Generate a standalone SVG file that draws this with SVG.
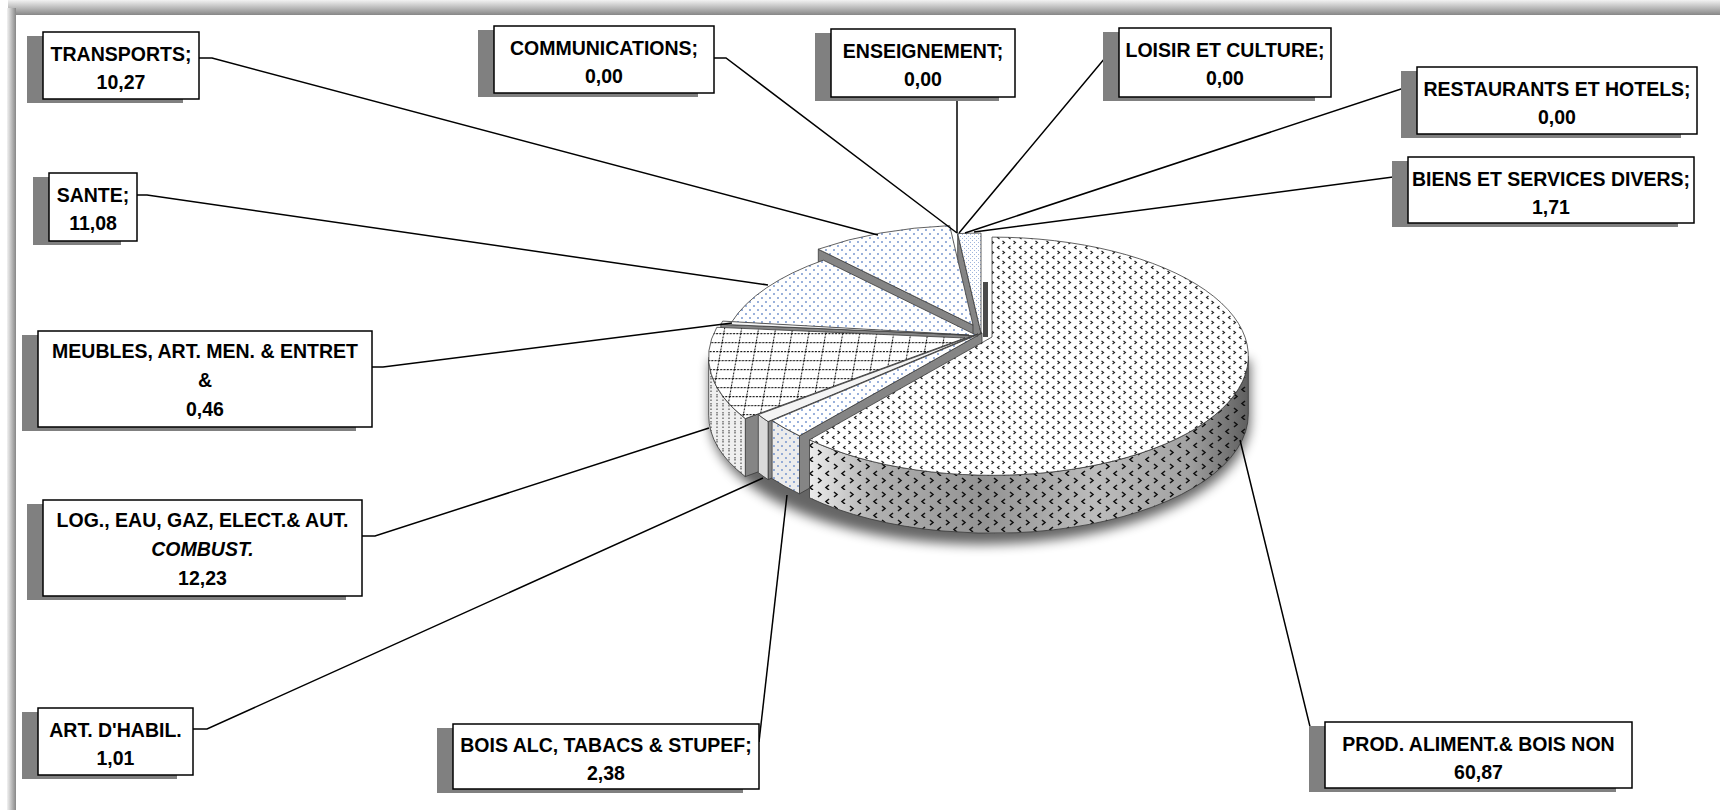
<svg xmlns="http://www.w3.org/2000/svg" width="1720" height="810" viewBox="0 0 1720 810">
<style>
.lbl{font-family:"Liberation Sans",Arial,sans-serif;font-weight:bold;font-size:19.5px;fill:#000;text-anchor:middle}
.it{font-style:italic}
.box{fill:#fff;stroke:#000;stroke-width:1.5}
.shd{fill:#808080}
.con{fill:none;stroke:#000;stroke-width:1.5}
.edge{stroke:#3a3a3a;stroke-width:0.8;stroke-linejoin:round}
.face{fill:#858585}
</style>
<defs>
<linearGradient id="gTop" x1="0" y1="0" x2="0" y2="1"><stop offset="0" stop-color="#f2f2f2"/><stop offset="1" stop-color="#878787"/></linearGradient>
<linearGradient id="gLeft" x1="0" y1="0" x2="1" y2="0"><stop offset="0" stop-color="#f2f2f2"/><stop offset="1" stop-color="#878787"/></linearGradient>
<linearGradient id="gSide" gradientUnits="userSpaceOnUse" x1="809" y1="0" x2="1249" y2="0">
<stop offset="0" stop-color="#ececec"/><stop offset="0.15" stop-color="#b0b0b0"/><stop offset="0.4" stop-color="#939393"/><stop offset="0.65" stop-color="#bcbcbc"/><stop offset="0.86" stop-color="#a2a2a2"/><stop offset="1" stop-color="#5e5e5e"/>
</linearGradient>
<pattern id="pProd" width="11" height="10" patternUnits="userSpaceOnUse">
<rect width="11" height="10" fill="#fff"/>
<path d="M1.5 1 l2 1.5 l-2 1.5 M9.5 6 l-2 1.5 l2 1.5" stroke="#222" stroke-width="1.1" fill="none"/>
</pattern>
<pattern id="pProdSide" width="16" height="14" patternUnits="userSpaceOnUse">
<path d="M2 2 l3 2.5 l-3 2.5 M13 9 l-3 2.5 l3 2.5" stroke="#111" stroke-width="1.6" fill="none"/>
</pattern>
<pattern id="pDots" width="8" height="8" patternUnits="userSpaceOnUse">
<rect width="8" height="8" fill="#fff"/>
<circle cx="2" cy="2" r="0.95" fill="#6f90cc"/><circle cx="6" cy="6" r="0.95" fill="#6f90cc"/>
</pattern>
<pattern id="pDotsSide" width="8" height="8" patternUnits="userSpaceOnUse">
<rect width="8" height="8" fill="#ececec"/>
<circle cx="2" cy="2" r="0.95" fill="#6f90cc"/><circle cx="6" cy="6" r="0.95" fill="#6f90cc"/>
</pattern>
<pattern id="pFine" width="4" height="4" patternUnits="userSpaceOnUse">
<rect width="4" height="4" fill="#fff"/>
<rect width="1" height="1" fill="#9fb5dc"/><rect x="2" y="2" width="1" height="1" fill="#9fb5dc"/>
</pattern>
<pattern id="pCross" width="17" height="9" patternUnits="userSpaceOnUse" patternTransform="skewX(-10)">
<rect width="17" height="9" fill="#fff"/>
<path d="M0 0.5 H17 M0.5 0 V9" stroke="#111" stroke-width="1.1" stroke-dasharray="2 1.3" fill="none"/>
</pattern>
<pattern id="pCrossSide" width="12" height="9" patternUnits="userSpaceOnUse">
<rect width="12" height="9" fill="#efefef"/>
<path d="M3 0 V9 M9 0 V9" stroke="#333" stroke-width="1" stroke-dasharray="1.5 2" fill="none"/>
</pattern>
<filter id="blur" x="-10%" y="-30%" width="120%" height="160%"><feGaussianBlur stdDeviation="6"/></filter>
</defs>

<rect width="1720" height="810" fill="#fff"/>
<g id="frame">
<rect x="8" y="0" width="1712" height="15" fill="url(#gTop)"/>
<rect x="7" y="8" width="9" height="802" fill="url(#gLeft)"/>
</g>

<g id="pie">
<path d="M712 354 L1252 354 L1252 414 A258 119 0 0 1 712 414 Z" fill="#000" opacity="0.6" filter="url(#blur)" transform="translate(-2,6)"/>
<g id="faces">
<path id="f-biens" class="face edge" d="M981 333 L957.7 233.6 L957.7 291.6 L981 391 Z"/>
<path id="f-transports" class="face edge" d="M973 325 L818.3 249.2 L818.3 307.2 L973 383 Z"/>
<path id="f-sante" class="face edge" d="M978 336 L731.7 322.1 L731.7 380.1 L978 394 Z"/>
<path id="f-meubles" class="face edge" d="M969 335 L720.8 324.3 L720.8 382.3 L969 393 Z"/>
<path id="f-log" class="face edge" d="M965 338 L745.3 418.6 L745.3 476.6 L965 396 Z"/>
<path id="f-art" class="face edge" d="M978 334 L768.1 421.6 L768.1 479.6 L978 392 Z"/>
<path id="f-bois" class="face edge" d="M982 333 L799.5 435.8 L799.5 493.8 L982 391 Z"/>
<rect x="983" y="282" width="5" height="55" fill="#4a4a4a"/>
</g>
<g id="sides">
<path id="s-log" class="edge" fill="url(#pCrossSide)" d="M745.3 418.6 A256.3 119.1 0 0 1 708.7 357.2 L708.7 415.2 A256.3 119.1 0 0 0 745.3 476.6 Z"/>
<path id="s-art" class="edge" fill="#dadada" d="M768.1 421.6 A256.3 119.1 0 0 1 758.3 414.6 L758.3 472.6 A256.3 119.1 0 0 0 768.1 479.6 Z"/>
<path id="s-bois" class="edge" fill="url(#pDotsSide)" d="M799.5 435.8 A256.3 119.1 0 0 1 772.1 420.6 L772.1 478.6 A256.3 119.1 0 0 0 799.5 493.8 Z"/>
<path id="s-prod" fill="url(#gSide)" d="M1248.3 356.2 A256.3 119.1 0 0 1 809.5 439.8 L809.5 497.8 A256.3 119.1 0 0 0 1248.3 414.2 Z"/>
<path class="edge" fill="url(#pProdSide)" d="M1248.3 356.2 A256.3 119.1 0 0 1 809.5 439.8 L809.5 497.8 A256.3 119.1 0 0 0 1248.3 414.2 Z"/>
</g>
<g id="tops">
<path id="t-biens" class="edge" fill="url(#pFine)" d="M981 333 L957.7 233.6 A256.3 119.1 0 0 1 981 233.1 Z"/>
<path id="t-transports" class="edge" fill="url(#pDots)" d="M973 325 L818.3 249.2 A256.3 119.1 0 0 1 949.7 225.6 Z"/>
<path id="t-sante" class="edge" fill="url(#pDots)" d="M978 336 L731.7 322.1 A256.3 119.1 0 0 1 823.3 260.2 Z"/>
<path id="t-meubles" class="edge" fill="#f4f4f4" d="M969 335 L720.8 324.3 A256.3 119.1 0 0 1 722.7 321.1 Z"/>
<path id="t-log" class="edge" fill="url(#pCross)" d="M965 338 L745.3 418.6 A256.3 119.1 0 0 1 716.8 327.3 Z"/>
<path id="t-art" class="edge" fill="#f4f4f4" d="M978 334 L768.1 421.6 A256.3 119.1 0 0 1 758.3 414.6 Z"/>
<path id="t-bois" class="edge" fill="url(#pDots)" d="M982 333 L799.5 435.8 A256.3 119.1 0 0 1 772.1 420.6 Z"/>
<path id="t-prod" class="edge" fill="url(#pProd)" d="M992 337 L992 237.1 A256.3 119.1 0 1 1 809.5 439.8 Z"/>
</g>
</g>

<g id="connectors">
<path class="con" d="M199 58 L212 58 L878 235"/>
<path class="con" d="M714 58 L726 58 L957 233"/>
<path class="con" d="M957 97 L957 233"/>
<path class="con" d="M1119 58 L1105 58 L959 233"/>
<path class="con" d="M1417 88 L1404 88 L965 233"/>
<path class="con" d="M1408 177 L1393 177 L974 232"/>
<path class="con" d="M137 195 L147 195 L768 285"/>
<path class="con" d="M372 367 L383 367 L732 323"/>
<path class="con" d="M362 536 L375 536 L709 428"/>
<path class="con" d="M193 729 L207 729 L763 478"/>
<path class="con" d="M759 742 L787 495"/>
<path class="con" d="M1325 743 L1314 743 L1240 440"/>
</g>

<g id="n-transports"><rect class="shd" x="27" y="36" width="156" height="67"/><rect class="box" x="43" y="32" width="156" height="67"/><text class="lbl" x="121" y="60.5">TRANSPORTS;</text><text class="lbl" x="121" y="89">10,27</text></g>
<g id="n-communications"><rect class="shd" x="478" y="30" width="220" height="67"/><rect class="box" x="494" y="26" width="220" height="67"/><text class="lbl" x="604" y="55">COMMUNICATIONS;</text><text class="lbl" x="604" y="83">0,00</text></g>
<g id="n-enseignement"><rect class="shd" x="815" y="33" width="184" height="68"/><rect class="box" x="831" y="29" width="184" height="68"/><text class="lbl" x="923" y="57.5">ENSEIGNEMENT;</text><text class="lbl" x="923" y="86">0,00</text></g>
<g id="n-loisir"><rect class="shd" x="1103" y="32" width="212" height="69"/><rect class="box" x="1119" y="28" width="212" height="69"/><text class="lbl" x="1225" y="56.5">LOISIR ET CULTURE;</text><text class="lbl" x="1225" y="85">0,00</text></g>
<g id="n-restaurants"><rect class="shd" x="1401" y="71" width="280" height="67"/><rect class="box" x="1417" y="67" width="280" height="67"/><text class="lbl" x="1557" y="95.5">RESTAURANTS ET HOTELS;</text><text class="lbl" x="1557" y="124">0,00</text></g>
<g id="n-biens"><rect class="shd" x="1392" y="161" width="286" height="66"/><rect class="box" x="1408" y="157" width="286" height="66"/><text class="lbl" x="1551" y="185.5">BIENS ET SERVICES DIVERS;</text><text class="lbl" x="1551" y="214">1,71</text></g>
<g id="n-sante"><rect class="shd" x="33" y="177" width="88" height="68"/><rect class="box" x="49" y="173" width="88" height="68"/><text class="lbl" x="93" y="201.5">SANTE;</text><text class="lbl" x="93" y="230">11,08</text></g>
<g id="n-meubles"><rect class="shd" x="22" y="335" width="334" height="96"/><rect class="box" x="38" y="331" width="334" height="96"/><text class="lbl" x="205" y="358">MEUBLES, ART. MEN. &amp; ENTRET</text><text class="lbl" x="205" y="387">&amp;</text><text class="lbl" x="205" y="416">0,46</text></g>
<g id="n-log"><rect class="shd" x="27" y="504" width="319" height="96"/><rect class="box" x="43" y="500" width="319" height="96"/><text class="lbl" x="202.5" y="527">LOG., EAU, GAZ, ELECT.&amp; AUT.</text><text class="lbl it" x="202.5" y="556">COMBUST.</text><text class="lbl" x="202.5" y="585">12,23</text></g>
<g id="n-art"><rect class="shd" x="22" y="712" width="155" height="67"/><rect class="box" x="38" y="708" width="155" height="67"/><text class="lbl" x="115.5" y="736.5">ART. D'HABIL.</text><text class="lbl" x="115.5" y="765">1,01</text></g>
<g id="n-bois"><rect class="shd" x="437" y="728" width="306" height="65"/><rect class="box" x="453" y="724" width="306" height="65"/><text class="lbl" x="606" y="752">BOIS ALC, TABACS &amp; STUPEF;</text><text class="lbl" x="606" y="780">2,38</text></g>
<g id="n-prod"><rect class="shd" x="1309" y="726" width="307" height="66"/><rect class="box" x="1325" y="722" width="307" height="66"/><text class="lbl" x="1478.5" y="750.5">PROD. ALIMENT.&amp; BOIS NON</text><text class="lbl" x="1478.5" y="779">60,87</text></g>
</svg>
